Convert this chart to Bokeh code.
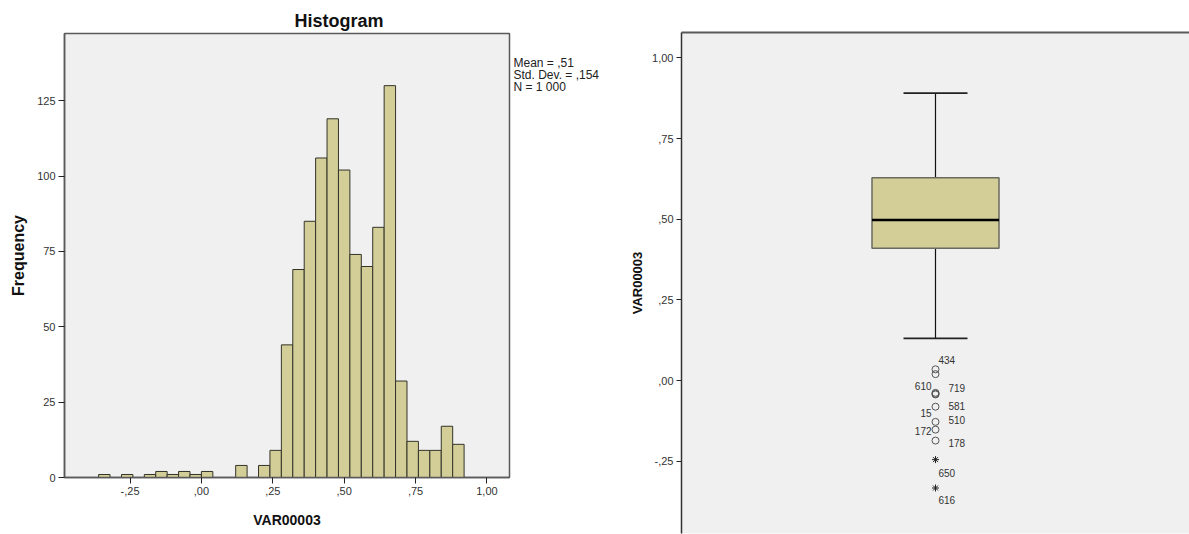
from bokeh.plotting import figure
from bokeh.models import Range1d, FixedTicker, Title, LinearAxis, ColumnDataSource
from bokeh.layouts import row
from bokeh.embed import file_html
from bokeh.resources import INLINE
from bokeh.core.properties import value

# ---------------- data ----------------
bin_starts = [-0.36, -0.28, -0.20, -0.16, -0.12, -0.08, -0.04, 0.00, 0.12, 0.20, 0.24,
              0.28, 0.32, 0.36, 0.40, 0.44, 0.48, 0.52, 0.56, 0.60, 0.64,
              0.68, 0.72, 0.76, 0.80, 0.84, 0.88]
bin_counts = [1, 1, 1, 2, 1, 2, 1, 2, 4, 4, 9,
              44, 69, 85, 106, 119, 102, 74, 70, 83, 130,
              32, 12, 9, 9, 17, 11]
bin_width = 0.04

x_ticks = [-0.25, 0.0, 0.25, 0.5, 0.75, 1.0]
x_tick_labels = ["-,25", ",00", ",25", ",50", ",75", "1,00"]
freq_ticks = [0, 25, 50, 75, 100, 125]
stats_lines = ["Mean = ,51", "Std. Dev. = ,154", "N = 1 000"]

box_q1 = 0.410
box_median = 0.498
box_q3 = 0.629
whisker_low = 0.131
whisker_high = 0.891
outlier_values = [0.035, 0.020, -0.038, -0.041, -0.043, -0.081, -0.128, -0.152, -0.186]
extreme_values = [-0.245, -0.333]
case_labels = ["434", "719", "610", "581", "15", "510", "172", "178", "650", "616"]
case_values = [0.035, -0.038, -0.041, -0.081, -0.081, -0.128, -0.152, -0.186, -0.245, -0.333]
box_ticks = [-0.25, 0.0, 0.25, 0.5, 0.75, 1.0]
box_tick_labels = ["-,25", ",00", ",25", ",50", ",75", "1,00"]

# ---------------- style ----------------
FONT = "Liberation Sans"
BG = "#F0F0F0"
BAR = "#D3CE97"
BAR_LINE = "#33332A"
FRAME = "#5A5A5A"
TICK_COLOR = "#333333"
# stats text placement (screen px inside the small text panel)
stats_x = [2, 2, 2]
stats_py = [62, 74, 86]
# outlier label placement (screen px offsets, alignment)
label_dx = [3, 13, -4, 13, -4, 13, -4, 13, 3, 3]
label_dy = [-9, -5, -8, -1, 6, -2, 1, 2, 13, 12]
label_side = ["left", "left", "right", "left", "right", "left", "right", "left", "left", "left"]
BOX_HALF = 0.25
CAP_HALF = 0.126

# ---------------- histogram ----------------
p1 = figure(width=511, height=534, x_range=Range1d(-0.4795, 1.079), y_range=Range1d(0, 147.3),
            output_backend="svg", toolbar_location=None, frame_align=False,
            min_border_left=64, min_border_right=2, min_border_top=33, min_border_bottom=57)
p1.background_fill_color = BG
p1.border_fill_color = "white"
p1.outline_line_color = FRAME
p1.outline_line_width = 1.5
p1.grid.visible = False

src = ColumnDataSource(dict(left=bin_starts,
                            right=[s + bin_width for s in bin_starts],
                            top=bin_counts,
                            bottom=[0] * len(bin_counts)))
p1.quad(left="left", right="right", top="top", bottom="bottom", source=src,
        fill_color=BAR, line_color=BAR_LINE, line_width=1)

p1.title = Title(text="Histogram", align="left", offset=230, standoff=6,
                 text_font=FONT, text_font_size="18px", text_font_style="bold", text_color="#111111")

for ax in (p1.xaxis[0], p1.yaxis[0]):
    ax.axis_line_color = FRAME
    ax.axis_line_width = 1.5
    ax.major_tick_line_color = "#222222"
    ax.major_tick_out = 6
    ax.major_tick_in = 0
    ax.minor_tick_line_color = None
    ax.major_label_text_font = FONT
    ax.major_label_text_font_size = "11px"
    ax.major_label_text_color = TICK_COLOR
    ax.major_label_standoff = 3
    ax.axis_label_text_font = FONT
    ax.axis_label_text_font_style = "bold"
    ax.axis_label_text_color = "#111111"

p1.xaxis.ticker = FixedTicker(ticks=x_ticks)
p1.xaxis.major_label_overrides = {t: l for t, l in zip(x_ticks, x_tick_labels)}
p1.xaxis.axis_label = "VAR00003"
p1.xaxis.axis_label_text_font_size = "14px"
p1.xaxis.axis_label_standoff = 14
p1.yaxis.ticker = FixedTicker(ticks=freq_ticks)
p1.yaxis.axis_label = "Frequency"
p1.yaxis.axis_label_text_font_size = "16px"
p1.yaxis.axis_label_standoff = 7

# ---------------- stats text panel ----------------
ps = figure(width=100, height=534, x_range=Range1d(0, 100), y_range=Range1d(534, 0),
            output_backend="svg", toolbar_location=None, frame_align=False,
            min_border=0, min_border_left=0, min_border_right=0, min_border_top=0, min_border_bottom=0)
ps.axis.visible = False
ps.grid.visible = False
ps.outline_line_color = None
ps.background_fill_color = "white"
ps.border_fill_color = "white"
ps.text(x=stats_x, y=stats_py, text=stats_lines, text_align="left", text_baseline="middle",
        text_font=value(FONT), text_font_size="12px", text_color="#222222")

# ---------------- boxplot ----------------
p2 = figure(width=578, height=534, x_range=Range1d(-1.0, 1.0), y_range=Range1d(-0.474, 1.079),
            output_backend="svg", toolbar_location=None, frame_align=False,
            min_border_left=70, min_border_right=0, min_border_top=32, min_border_bottom=1)
p2.background_fill_color = BG
p2.border_fill_color = "white"
p2.outline_line_color = None
p2.grid.visible = False
p2.xaxis.visible = False

top_axis = LinearAxis(ticker=FixedTicker(ticks=[]), axis_line_color=FRAME, axis_line_width=2,
                      major_label_text_font_size="0px", major_tick_line_color=None,
                      minor_tick_line_color=None)
p2.add_layout(top_axis, "above")

ya = p2.yaxis[0]
ya.ticker = FixedTicker(ticks=box_ticks)
ya.major_label_overrides = {t: l for t, l in zip(box_ticks, box_tick_labels)}
ya.axis_line_color = "#333333"
ya.axis_line_width = 1.5
ya.major_tick_line_color = "#222222"
ya.major_tick_out = 5
ya.major_tick_in = 0
ya.minor_tick_line_color = None
ya.major_label_text_font = FONT
ya.major_label_text_font_size = "11px"
ya.major_label_text_color = TICK_COLOR
ya.major_label_standoff = 3
ya.axis_label = "VAR00003"
ya.axis_label_text_font = FONT
ya.axis_label_text_font_size = "13px"
ya.axis_label_text_font_style = "bold"
ya.axis_label_text_color = "#111111"
ya.axis_label_standoff = 4

# whiskers
p2.segment(x0=[0, 0], x1=[0, 0], y0=[box_q3, box_q1], y1=[whisker_high, whisker_low],
           line_color="#111111", line_width=1.2)
p2.segment(x0=[-CAP_HALF, -CAP_HALF], x1=[CAP_HALF, CAP_HALF], y0=[whisker_high, whisker_low],
           y1=[whisker_high, whisker_low], line_color="#222222", line_width=1.6)
# box
p2.vbar(x=[0], width=[2 * BOX_HALF], bottom=[box_q1], top=[box_q3],
        fill_color=BAR, line_color="#6A6A60", line_width=1.5)
p2.segment(x0=[-BOX_HALF], x1=[BOX_HALF], y0=[box_median], y1=[box_median],
           line_color="black", line_width=2.5)
# outliers
p2.scatter(x=[0] * len(outlier_values), y=outlier_values, marker="circle", size=7,
           fill_color=None, line_color="#555555", line_width=1)
p2.scatter(x=[0] * len(extreme_values), y=extreme_values, marker="asterisk", size=7,
           line_color="#222222", line_width=1)

for side in ("left", "right"):
    idx = [i for i, s in enumerate(label_side) if s == side]
    lsrc = ColumnDataSource(dict(x=[0] * len(idx), y=[case_values[i] for i in idx],
                                 text=[case_labels[i] for i in idx],
                                 dx=[label_dx[i] for i in idx], dy=[label_dy[i] for i in idx]))
    p2.text(x="x", y="y", text="text", x_offset="dx", y_offset="dy", source=lsrc,
            text_align=side, text_baseline="middle", text_font=value(FONT),
            text_font_size="10px", text_color="#333333")

layout = row(p1, ps, p2)
open("out.html", "w").write(file_html(layout, INLINE))
